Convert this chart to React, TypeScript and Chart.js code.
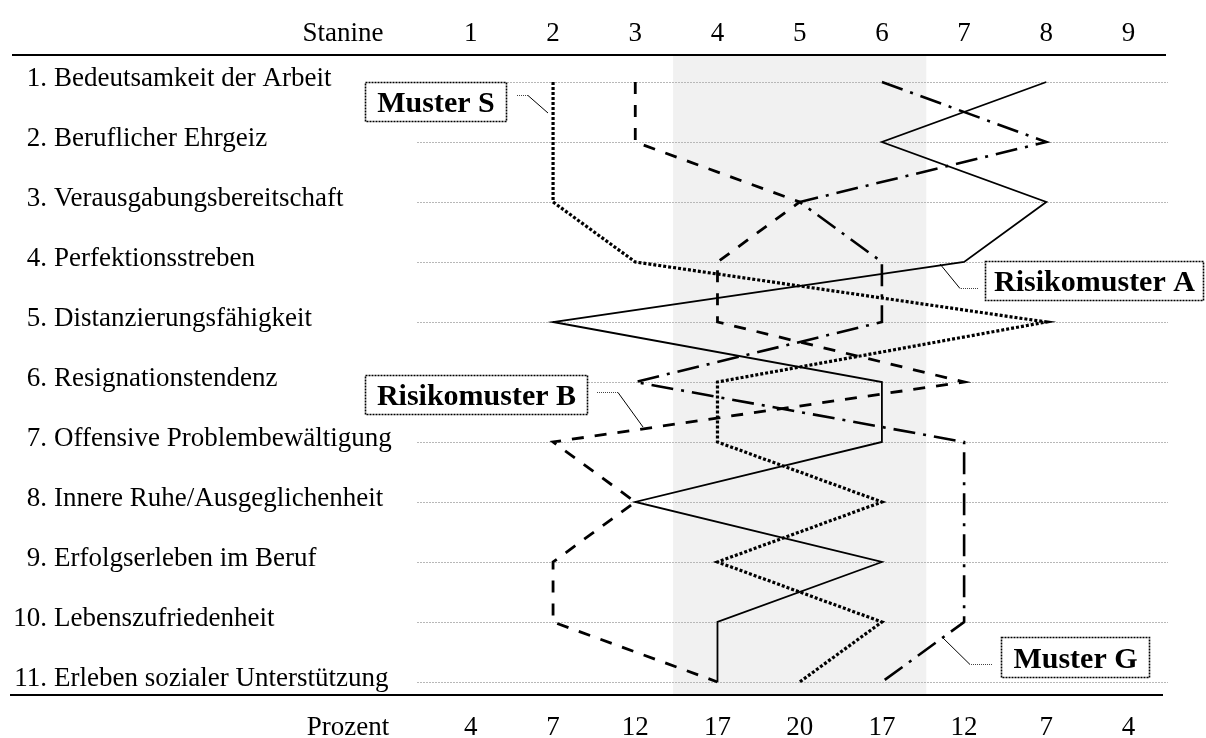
import React, { useEffect, useRef } from "react";
import { Chart, registerables } from "chart.js";

Chart.register(...registerables);

// ---------- data ----------
const ROW_LABELS = [
  "1. Bedeutsamkeit der Arbeit",
  "2. Beruflicher Ehrgeiz",
  "3. Verausgabungsbereitschaft",
  "4. Perfektionsstreben",
  "5. Distanzierungsfähigkeit",
  "6. Resignationstendenz",
  "7. Offensive Problembewältigung",
  "8. Innere Ruhe/Ausgeglichenheit",
  "9. Erfolgserleben im Beruf",
  "10. Lebenszufriedenheit",
  "11. Erleben sozialer Unterstützung",
];
const STANINE_TITLE = "Stanine";
const PERCENT_TITLE = "Prozent";
const STANINE_TICKS = [1, 2, 3, 4, 5, 6, 7, 8, 9];
const PERCENT_LABELS = ["4", "7", "12", "17", "20", "17", "12", "7", "4"];

const MUSTER_G = [6, 8, 5, 6, 6, 3, 7, 7, 7, 7, 6];
const MUSTER_S = [2, 2, 2, 3, 8, 4, 4, 6, 4, 6, 5];
const RISIKO_A = [8, 6, 8, 7, 2, 6, 6, 3, 6, 4, 4];
const RISIKO_B = [3, 3, 5, 4, 4, 7, 2, 3, 2, 2, 4];

const NORM_BAND = [3.46, 6.54];

// annotation boxes (pixel layout)
const CALLOUTS = [
  { text: "Muster S", box: [365, 82, 507, 122], leader: [[517, 95], [528, 95], [548, 113]] },
  { text: "Risikomuster B", box: [365, 375, 588, 415], leader: [[597, 392], [618, 392], [643, 427]] },
  { text: "Risikomuster A", box: [985, 261, 1204, 301], leader: [[978, 288], [960, 288], [940, 264]] },
  { text: "Muster G", box: [1001, 637, 1150, 678], leader: [[992, 664], [970, 664], [942, 637]] },
];

const FONT = '"Liberation Serif", "Times New Roman", serif';

const toPoints = (vals: number[]) => vals.map((v, i) => ({ x: v, y: i + 1 }));

const decorPlugin = {
  id: "decor",
  beforeDatasetsDraw(chart: any) {
    const { ctx, chartArea: a, scales } = chart;
    const x = scales.x;
    const y = scales.y;
    ctx.save();
    // norm band
    const bx0 = x.getPixelForValue(NORM_BAND[0]);
    const bx1 = x.getPixelForValue(NORM_BAND[1]);
    ctx.fillStyle = "#f1f1f1";
    ctx.fillRect(bx0, a.top, bx1 - bx0, a.bottom - a.top);
    // row grid lines
    ctx.strokeStyle = "#b8b8b8";
    ctx.lineWidth = 1.2;
    ctx.setLineDash([2, 1]);
    ROW_LABELS.forEach((_, i) => {
      const py = Math.round(y.getPixelForValue(i + 1)) + 0.5;
      ctx.beginPath();
      ctx.moveTo(a.left, py);
      ctx.lineTo(a.right, py);
      ctx.stroke();
    });
    ctx.restore();
  },
  afterDraw(chart: any) {
    const { ctx, chartArea: a, scales } = chart;
    const x = scales.x;
    const y = scales.y;
    ctx.save();
    // top & bottom rules
    ctx.strokeStyle = "#000";
    ctx.lineWidth = 2;
    ctx.setLineDash([]);
    ctx.beginPath();
    ctx.moveTo(12, a.top);
    ctx.lineTo(a.right - 2, a.top);
    ctx.moveTo(10, a.bottom);
    ctx.lineTo(a.right - 5, a.bottom);
    ctx.stroke();

    // header / footer
    ctx.fillStyle = "#000";
    ctx.font = `27px ${FONT}`;
    ctx.textBaseline = "alphabetic";
    ctx.textAlign = "center";
    ctx.fillText(STANINE_TITLE, 343, a.top - 14);
    ctx.fillText(PERCENT_TITLE, 348, a.bottom + 40);
    STANINE_TICKS.forEach((s, i) => {
      const px = x.getPixelForValue(s);
      ctx.fillText(String(s), px, a.top - 14);
      ctx.fillText(PERCENT_LABELS[i], px, a.bottom + 40);
    });

    // row labels
    ROW_LABELS.forEach((label, i) => {
      const py = y.getPixelForValue(i + 1) + 4;
      const sp = label.indexOf(" ");
      ctx.textAlign = "right";
      ctx.fillText(label.slice(0, sp), 47, py);
      ctx.textAlign = "left";
      ctx.fillText(label.slice(sp + 1), 54, py);
    });

    // callouts
    CALLOUTS.forEach((c) => {
      const [x0, y0, x1, y1] = c.box;
      ctx.fillStyle = "#fff";
      ctx.fillRect(x0, y0, x1 - x0, y1 - y0);
      ctx.strokeStyle = "#000";
      ctx.lineWidth = 1.6;
      ctx.setLineDash([2, 1]);
      ctx.strokeRect(x0 + 0.5, y0 + 0.5, x1 - x0 - 1, y1 - y0 - 1);
      // leader
      const [p0, p1, p2] = c.leader;
      ctx.strokeStyle = "#444";
      ctx.lineWidth = 1;
      ctx.setLineDash([1, 1]);
      ctx.beginPath();
      ctx.moveTo(p0[0], p0[1] + 0.5);
      ctx.lineTo(p1[0], p1[1] + 0.5);
      ctx.stroke();
      ctx.strokeStyle = "#000";
      ctx.setLineDash([]);
      ctx.beginPath();
      ctx.moveTo(p1[0], p1[1] + 0.5);
      ctx.lineTo(p2[0], p2[1]);
      ctx.stroke();
      // text
      ctx.fillStyle = "#000";
      ctx.font = `bold 30px ${FONT}`;
      ctx.textAlign = "center";
      ctx.textBaseline = "alphabetic";
      ctx.fillText(c.text, (x0 + x1) / 2, (y0 + y1) / 2 + 10);
    });
    ctx.restore();
  },
};

export default function App() {
  const canvasRef = useRef<HTMLCanvasElement | null>(null);

  useEffect(() => {
    if (!canvasRef.current) return;
    const common = {
      showLine: true,
      pointRadius: 0,
      pointHoverRadius: 0,
      borderColor: "#000",
      backgroundColor: "#000",
      fill: false,
      tension: 0,
      borderCapStyle: "butt",
      borderJoinStyle: "miter",
    };
    const chart = new Chart(canvasRef.current, {
      type: "scatter",
      data: {
        datasets: [
          { ...common, label: "Muster G", data: toPoints(MUSTER_G), borderWidth: 2.6, borderDash: [22, 8, 3, 8] },
          { ...common, label: "Muster S", data: toPoints(MUSTER_S), borderWidth: 3.2, borderDash: [3, 2] },
          { ...common, label: "Risikomuster A", data: toPoints(RISIKO_A), borderWidth: 1.8 },
          { ...common, label: "Risikomuster B", data: toPoints(RISIKO_B), borderWidth: 2.8, borderDash: [12, 11] },
        ] as any,
      },
      options: {
        responsive: false,
        devicePixelRatio: 1,
        animation: false,
        events: [],
        layout: { padding: { left: 417, right: 38, top: 55, bottom: 43 } },
        scales: {
          x: { type: "linear", min: 0.345, max: 9.48, display: false },
          y: { type: "linear", min: 0.55, max: 11.217, reverse: true, display: false },
        },
        plugins: {
          legend: { display: false },
          tooltip: { enabled: false },
        },
      } as any,
      plugins: [decorPlugin],
    });
    return () => chart.destroy();
  }, []);

  return (
    <div style={{ position: "absolute", left: 0, top: 0, width: 1206, height: 738, background: "#fff" }}>
      <canvas ref={canvasRef} width={1206} height={738} style={{ display: "block" }} />
    </div>
  );
}
